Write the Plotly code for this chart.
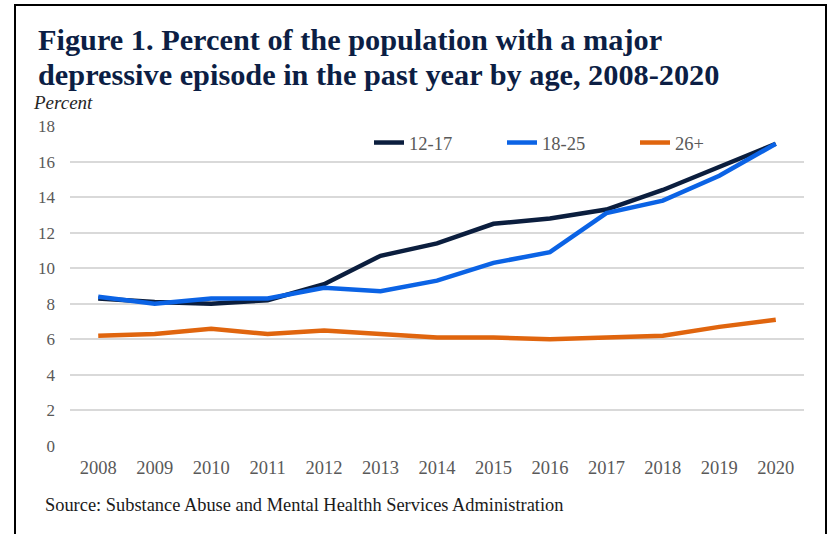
import plotly.graph_objects as go

years = ["2008", "2009", "2010", "2011", "2012", "2013", "2014",
         "2015", "2016", "2017", "2018", "2019", "2020"]
age_12_17 = [8.3, 8.1, 8.0, 8.2, 9.1, 10.7, 11.4, 12.5, 12.8, 13.3, 14.4, 15.7, 17.0]
age_18_25 = [8.4, 8.0, 8.3, 8.3, 8.9, 8.7, 9.3, 10.3, 10.9, 13.1, 13.8, 15.2, 17.0]
age_26_plus = [6.2, 6.3, 6.6, 6.3, 6.5, 6.3, 6.1, 6.1, 6.0, 6.1, 6.2, 6.7, 7.1]
y_ticks = [0, 2, 4, 6, 8, 10, 12, 14, 16, 18]

SERIF = "Liberation Serif, Times New Roman, serif"
W, H = 831, 534
L, R, T, B = 70, 27, 126, 88
PW, PH = W - L - R, H - T - B

def px(x):
    return (x - L) / PW

def py(y):
    return (H - B - y) / PH

fig = go.Figure()
fig.add_trace(go.Scatter(x=years, y=age_12_17, name="12-17", mode="lines",
                         line=dict(color="#0B1E3E", width=4.5)))
fig.add_trace(go.Scatter(x=years, y=age_18_25, name="18-25", mode="lines",
                         line=dict(color="#0B63E5", width=4.5)))
fig.add_trace(go.Scatter(x=years, y=age_26_plus, name="26+", mode="lines",
                         line=dict(color="#E0650E", width=4.5)))

fig.update_layout(
    width=W, height=H,
    margin=dict(l=L, r=R, t=T, b=B),
    paper_bgcolor="white", plot_bgcolor="white",
    font=dict(family=SERIF, color="#595959", size=16),
    showlegend=True,
    legend=dict(orientation="h", x=px(369), y=py(143), xanchor="left", yanchor="middle",
                font=dict(family=SERIF, size=18.5, color="#595959"),
                bgcolor="rgba(0,0,0,0)", entrywidth=88, traceorder="normal"),
    xaxis=dict(type="category", range=[-0.5, 12.5], showgrid=False, showline=False,
               ticks="", tickfont=dict(family=SERIF, size=18.5, color="#595959"),
               ticklabelstandoff=8),
    yaxis=dict(range=[0, 18], tickvals=y_ticks, showgrid=True, gridcolor="#D9D9D9",
               gridwidth=1.5, zeroline=False, showline=False, ticks="",
               tickfont=dict(family=SERIF, size=17, color="#595959"),
               ticklabelstandoff=14),
    shapes=[dict(type="rect", xref="paper", yref="paper",
                 x0=px(15), x1=px(826), y0=py(560), y1=py(5),
                 line=dict(color="black", width=2), fillcolor="rgba(0,0,0,0)")],
    annotations=[
        dict(text="<b>Figure 1. Percent of the population with a major</b>",
             xref="paper", yref="paper", x=px(36), y=py(40), xanchor="left", yanchor="middle",
             align="left", showarrow=False,
             font=dict(family=SERIF, size=30.3, color="#0C1E44")),
        dict(text="<b>depressive episode in the past year by age, 2008-2020</b>",
             xref="paper", yref="paper", x=px(36), y=py(75), xanchor="left", yanchor="middle",
             align="left", showarrow=False,
             font=dict(family=SERIF, size=30.3, color="#0C1E44")),
        dict(text="<i>Percent</i>", xref="paper", yref="paper", x=px(31), y=py(102),
             xanchor="left", yanchor="middle", showarrow=False,
             font=dict(family=SERIF, size=19, color="#262626")),
        dict(text="Source: Substance Abuse and Mental Healthh Services Administration",
             xref="paper", yref="paper", x=px(43), y=py(505), xanchor="left",
             yanchor="middle", showarrow=False,
             font=dict(family=SERIF, size=18.4, color="#1A1A1A")),
    ],
)

fig.write_html("out.html", config={"displayModeBar": False},
               post_script="document.body.style.margin='0';")
